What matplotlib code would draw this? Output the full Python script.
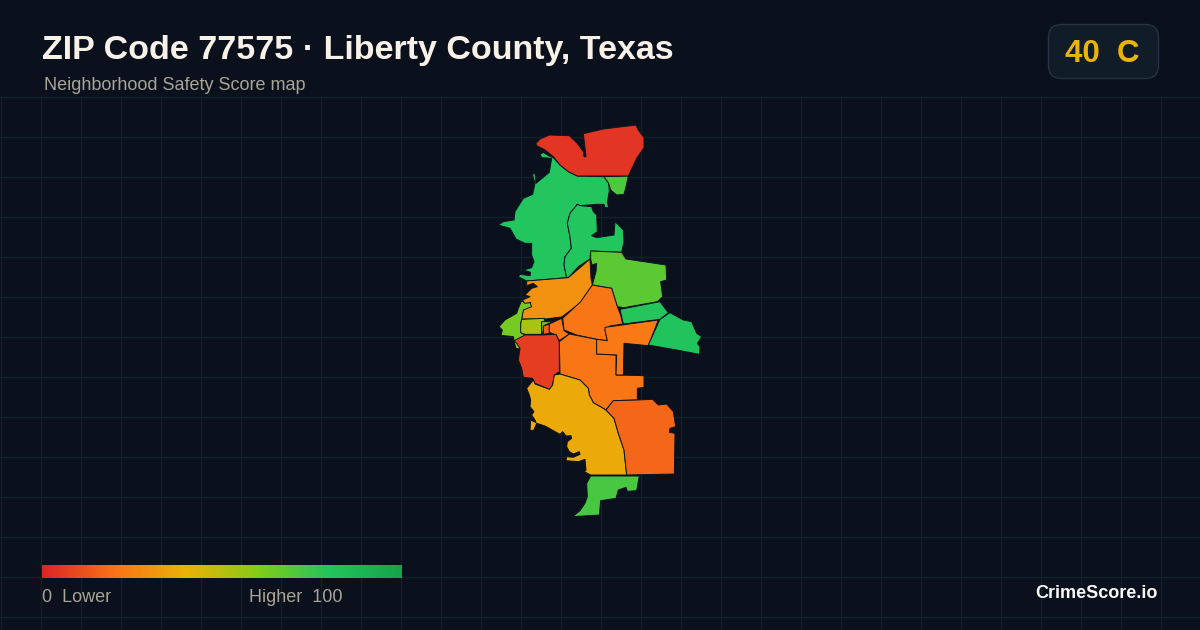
import matplotlib
matplotlib.use("Agg")
import matplotlib.pyplot as plt
import numpy as np
from matplotlib.colors import LinearSegmentedColormap
from matplotlib.patches import FancyBboxPatch, Polygon

plt.rcParams['font.family'] = ['Liberation Sans', 'DejaVu Sans']

TITLE = "ZIP Code 77575 · Liberty County, Texas"
SUBTITLE = "Neighborhood Safety Score map"
BADGE = "40  C"
BRAND = "CrimeScore.io"
LOW_LABEL = "0  Lower"
HIGH_LABEL = "Higher  100"

SCALE_STOPS = [0, 20, 40, 60, 80, 100]
SCALE_COLORS = ["#dc2626", "#f97316", "#eab308", "#84cc16", "#22c55e", "#16a34a"]

# Tract outlines, traced as crop coordinates: NORTH crop and SOUTH crop of the map
NORTH_ORIGIN = (490, 115)
SOUTH_ORIGIN = (490, 300)
RED_NORTH = [(138,85),(150,72),(178,60),(238,62),(262,85),(280,110),(282,125),(288,125),(280,56),(340,42),(438,30),(445,45),(462,68),(462,98),(440,130),(415,183),(262,183),(235,170),(210,150),(190,125),(165,105),(140,92)]
SLIVER_NE = [(342,185),(415,183),(408,215),(402,238),(380,240),(362,225),(356,205)]
GREEN_WEST = [(150,118),(160,112),(175,122),(190,128),(210,150),(235,170),(262,183),(342,185),(356,205),(358,228),(352,262),(356,278),(345,278),(342,268),(320,268),(270,272),(262,268),(240,295),(232,325),(240,365),(244,400),(225,425),(222,450),(230,488),(110,498),(85,485),(90,478),(120,482),(122,472),(100,465),(125,458),(132,440),(125,420),(125,385),(105,385),(78,372),(60,340),(25,330),(40,320),(72,315),(75,290),(100,250),(128,238),(135,205),(127,178),(135,175),(138,205),(178,172),(185,130),(155,128)]
GREEN_CENTRAL = [(262,268),(270,272),(305,275),(310,290),(320,300),(322,350),(305,362),(320,368),(372,360),(375,320),(400,345),(402,380),(395,412),(302,408),(300,432),(265,455),(235,488),(230,488),(222,450),(225,425),(244,400),(240,365),(232,325),(240,295)]
GREEN_NE_BLOCK = [(302,408),(395,412),(408,432),(528,450),(530,495),(512,500),(518,545),(502,560),(402,578),(382,575),(365,520),(335,515),(307,510),(318,470),(320,445),(306,450),(302,432)]
AMBER_NORTH = [(110,498),(235,488),(300,432),(303,490),(307,510),(270,565),(215,606),(165,612),(95,612),(100,580),(120,570),(122,562),(105,570),(98,555),(120,545),(105,540),(125,520),(142,515),(130,505),(110,512)]
ORANGE_CENTRAL = [(307,-45),(335,-40),(365,-35),(382,20),(392,45),(398,72),(360,78),(345,90),(352,122),(320,118),(260,105),(222,90),(218,55),(272,5)]
LIME_WEST = [(95,2),(85,25),(80,40),(45,60),(27,80),(37,90),(33,106),(70,110),(72,122),(78,146),(88,146),(90,120),(105,105),(95,100),(92,75),(95,58),(100,30),(125,20),(120,8),(105,10)]
LIME_BOX = [(95,58),(163,55),(163,65),(155,65),(155,103),(105,103),(92,98),(92,72)]
LIME_TAB = [(155,65),(190,65),(165,75),(157,103),(155,103)]
ORANGE_STRIP = [(160,78),(178,72),(178,100),(160,103)]
ORANGE_SMALL = [(178,72),(215,55),(222,92),(238,102),(208,122),(198,105),(178,97)]
RED_WEST = [(72,122),(105,105),(155,105),(198,103),(208,125),(208,215),(193,225),(188,255),(178,268),(135,250),(128,235),(100,232),(95,205),(85,180),(90,145),(80,130)]
ORANGE_BIG = [(238,102),(320,118),(320,162),(378,165),(378,225),(462,227),(462,262),(442,265),(442,300),(370,302),(348,330),(310,308),(298,285),(295,265),(270,240),(210,222),(208,125)]
ORANGE_ARM = [(345,82),(505,60),(475,137),(402,130),(400,225),(378,225),(380,165),(320,162),(320,118),(352,122),(345,90)]
GREEN_EAST = [(510,58),(540,38),(580,60),(605,65),(620,100),(635,110),(622,130),(630,140),(628,163),(560,150),(475,135)]
GREEN_MID = [(390,28),(510,5),(525,25),(535,38),(510,58),(400,72)]
YELLOW_SOUTH = [(110,265),(130,240),(135,252),(178,268),(188,255),(193,225),(210,222),(270,240),(295,265),(298,285),(310,308),(348,330),(372,355),(385,400),(402,450),(410,525),(302,525),(283,515),(288,510),(285,478),(265,485),(228,482),(230,470),(250,472),(270,463),(268,455),(250,462),(238,455),(230,440),(232,425),(245,415),(243,407),(228,408),(218,395),(210,403),(190,392),(178,385),(165,378),(140,370),(132,390),(120,392),(122,360),(138,368),(135,360),(125,345),(132,335),(120,320),(122,300),(118,285)]
ORANGE_SOUTH = [(370,302),(442,300),(488,298),(505,315),(530,312),(550,335),(557,380),(540,385),(538,397),(555,400),(553,522),(410,525),(402,450),(385,400),(372,355),(348,330)]
GREEN_SOUTH = [(302,528),(448,528),(440,572),(412,574),(408,562),(385,570),(378,595),(332,602),(328,645),(248,650),(270,632),(285,610),(292,590),(290,550)]

# (outline, crop origin, safety score)
TRACTS = [
    (GREEN_WEST, NORTH_ORIGIN, 80), (SLIVER_NE, NORTH_ORIGIN, 71), (RED_NORTH, NORTH_ORIGIN, 4),
    (GREEN_CENTRAL, NORTH_ORIGIN, 80), (GREEN_NE_BLOCK, NORTH_ORIGIN, 68), (AMBER_NORTH, NORTH_ORIGIN, 29),
    (ORANGE_CENTRAL, SOUTH_ORIGIN, 21), (LIME_WEST, SOUTH_ORIGIN, 63), (LIME_BOX, SOUTH_ORIGIN, 53),
    (LIME_TAB, SOUTH_ORIGIN, 63), (ORANGE_STRIP, SOUTH_ORIGIN, 16), (ORANGE_SMALL, SOUTH_ORIGIN, 21),
    (RED_WEST, SOUTH_ORIGIN, 6), (ORANGE_BIG, SOUTH_ORIGIN, 21), (ORANGE_ARM, SOUTH_ORIGIN, 22),
    (GREEN_EAST, SOUTH_ORIGIN, 81), (GREEN_MID, SOUTH_ORIGIN, 79), (YELLOW_SOUTH, SOUTH_ORIGIN, 37),
    (ORANGE_SOUTH, SOUTH_ORIGIN, 17), (GREEN_SOUTH, SOUTH_ORIGIN, 72),
]

BG = "#0a111c"
GRID = "#13202b"
OUTLINE = "#0d1420"
MUTED = "#a8a498"

fig = plt.figure(figsize=(12, 6.3), dpi=100, facecolor=BG)
ax = fig.add_axes([0, 0, 1, 1])
ax.set_xlim(0, 1200)
ax.set_ylim(630, 0)
ax.axis("off")

for x in np.arange(0.5, 1201, 40):
    ax.plot([x, x], [96, 630], color=GRID, lw=1, zorder=1)
for y in np.arange(96.5, 631, 40):
    ax.plot([0, 1200], [y, y], color=GRID, lw=1, zorder=1)

cmap = LinearSegmentedColormap.from_list(
    "safety", [(s / 100, c) for s, c in zip(SCALE_STOPS, SCALE_COLORS)])

for outline, origin, score in TRACTS:
    pts = np.array(outline, dtype=float) / 3 + np.array(origin)
    ax.add_patch(Polygon(pts, closed=True, facecolor=cmap(score / 100),
                         edgecolor=OUTLINE, lw=0.7, joinstyle="round", zorder=3))

ax.text(42, 50, TITLE, color="#f8f1e7", fontsize=24.45, fontweight="bold", va="center", ha="left", zorder=5)
ax.text(44, 85.5, SUBTITLE, color=MUTED, fontsize=12.95, va="center", ha="left", zorder=5)

ax.add_patch(FancyBboxPatch((1048.5, 24.5), 110, 54, boxstyle="round,pad=0,rounding_size=13",
                            facecolor="#111c29", edgecolor="#263341", lw=1, zorder=4))
ax.text(1102.5, 53.5, BADGE, color="#eab308", fontsize=22.5, fontweight="bold", va="center", ha="center", zorder=5)

ramp = np.linspace(0, 1, 360).reshape(1, -1)
ax.imshow(ramp, cmap=cmap, vmin=0, vmax=1, extent=(42, 402, 578, 565), aspect="auto", zorder=4)
ax.set_xlim(0, 1200)
ax.set_ylim(630, 0)

ax.text(42, 597.5, LOW_LABEL, color=MUTED, fontsize=13, va="center", ha="left", zorder=5)
ax.text(342.5, 597.5, HIGH_LABEL, color=MUTED, fontsize=13, va="center", ha="right", zorder=5)
ax.text(1158, 594, BRAND, color="#f8f8f8", fontsize=13, fontweight="bold", va="center", ha="right", zorder=5)

fig.savefig("out.png", dpi=100, facecolor=BG)
